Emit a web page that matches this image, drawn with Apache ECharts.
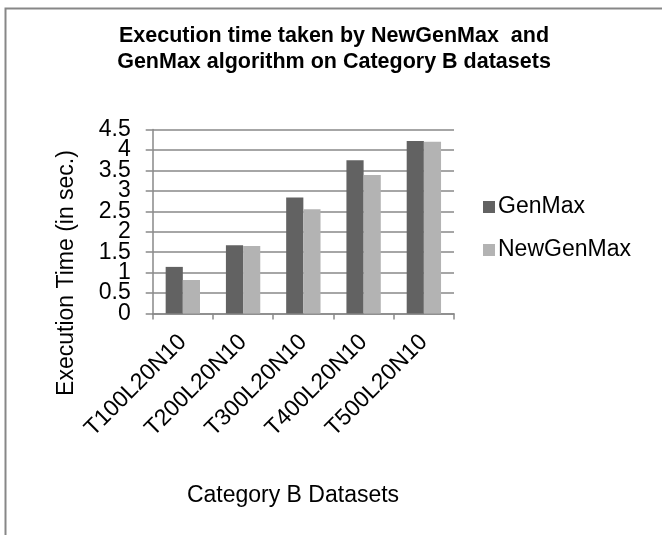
<!DOCTYPE html>
<html>
<head>
<meta charset="utf-8">
<style>
  html, body { margin: 0; padding: 0; background: #fff; }
  #chart { width: 662px; height: 535px; }
</style>
<script src="https://cdn.jsdelivr.net/npm/echarts@6/dist/echarts.min.js"></script>
</head>
<body>
<div id="chart"></div>
<script>
// Dataset categories and execution times (seconds)
const categories = ['T100L20N10', 'T200L20N10', 'T300L20N10', 'T400L20N10', 'T500L20N10'];
const genMax = [1.14, 1.67, 2.84, 3.75, 4.22];
const newGenMax = [0.82, 1.65, 2.55, 3.39, 4.20];
const seriesNames = ['GenMax', 'NewGenMax'];
const titleLines = ['Execution time taken by NewGenMax  and', 'GenMax algorithm on Category B datasets'];
const xAxisTitle = 'Category B Datasets';
const yAxisTitle = 'Execution Time (in sec.)';
const Y_MIN = 0, Y_MAX = 4.5, Y_STEP = 0.5;

const FONT = '"Liberation Sans", Arial, sans-serif';
const GRID_COLOR = '#898989';
const LABEL_SIZE = 23;

// plot area
const PLOT = { left: 152.7, top: 129.5, width: 301.3, height: 184 };
const stepPx = PLOT.height / ((Y_MAX - Y_MIN) / Y_STEP);

// The tick labels sit closer together than their font height, so they are
// split over two label-only axes (whole and half values) to keep every one shown.
const labelAxisStyle = {
  type: 'value',
  interval: 1,
  axisLine: { show: false },
  axisTick: { show: false },
  splitLine: { show: false },
  axisLabel: {
    margin: 22,
    fontFamily: FONT,
    fontSize: LABEL_SIZE,
    color: '#000',
    showMinLabel: true,
    showMaxLabel: true,
    formatter: v => String(v)
  }
};

const chart = echarts.init(document.getElementById('chart'), null, { renderer: 'canvas' });

chart.setOption({
  animation: false,
  backgroundColor: '#ffffff',
  textStyle: { fontFamily: FONT },
  legend: {
    orient: 'vertical',
    left: 478,
    top: 190,
    icon: 'rect',
    itemWidth: 12,
    itemHeight: 12,
    itemGap: 19,
    data: seriesNames,
    textStyle: { fontFamily: FONT, fontSize: LABEL_SIZE, color: '#000', lineHeight: 24, padding: [0, 0, 0, -2] }
  },
  grid: [
    { left: PLOT.left, top: PLOT.top, width: PLOT.width, height: PLOT.height, containLabel: false },
    { left: PLOT.left, top: PLOT.top + stepPx, width: PLOT.width, height: PLOT.height - stepPx, containLabel: false },
    { left: PLOT.left, top: PLOT.top, width: PLOT.width, height: PLOT.height - stepPx, containLabel: false }
  ],
  xAxis: [
    {
      type: 'category',
      gridIndex: 0,
      data: categories,
      boundaryGap: true,
      axisLine: { lineStyle: { color: GRID_COLOR, width: 1.5 } },
      axisTick: { show: true, alignWithLabel: false, length: 6, lineStyle: { color: GRID_COLOR, width: 1.5 } },
      axisLabel: {
        rotate: 45,
        interval: 0,
        margin: 25,
        fontFamily: FONT,
        fontSize: LABEL_SIZE,
        color: '#000'
      }
    },
    { type: 'category', gridIndex: 1, data: categories, show: false },
    { type: 'category', gridIndex: 2, data: categories, show: false }
  ],
  yAxis: [
    {
      type: 'value',
      gridIndex: 0,
      min: Y_MIN,
      max: Y_MAX,
      interval: Y_STEP,
      axisLine: { show: true, lineStyle: { color: GRID_COLOR, width: 1.5 } },
      axisTick: { show: true, length: 7, lineStyle: { color: GRID_COLOR, width: 1.5 } },
      splitLine: { show: true, lineStyle: { color: GRID_COLOR, width: 1.5 } },
      axisLabel: { show: false }
    },
    Object.assign({ gridIndex: 1, min: Y_MIN, max: Y_MAX - Y_STEP }, labelAxisStyle),
    Object.assign({ gridIndex: 2, min: Y_MIN + Y_STEP, max: Y_MAX }, labelAxisStyle)
  ],
  series: [
    {
      name: seriesNames[0],
      type: 'bar',
      data: genMax,
      barGap: '0%',
      barCategoryGap: '43%',
      itemStyle: { color: '#626262' }
    },
    {
      name: seriesNames[1],
      type: 'bar',
      data: newGenMax,
      barGap: '0%',
      barCategoryGap: '43%',
      itemStyle: { color: '#b3b3b3' }
    }
  ],
  graphic: [
    {
      type: 'rect',
      silent: true,
      shape: { x: 5.5, y: 8.5, width: 700, height: 600 },
      style: { fill: 'none', stroke: '#878787', lineWidth: 2 }
    },
    {
      type: 'text',
      x: 334,
      y: 49,
      style: {
        text: titleLines.join('\n'),
        fontFamily: FONT,
        fontSize: 21.5,
        fontWeight: 'bold',
        lineHeight: 26,
        fill: '#000',
        align: 'center',
        verticalAlign: 'middle'
      }
    },
    {
      type: 'text',
      x: 293,
      y: 496,
      style: {
        text: xAxisTitle,
        fontFamily: FONT,
        fontSize: LABEL_SIZE,
        fill: '#000',
        align: 'center',
        verticalAlign: 'middle'
      }
    },
    {
      type: 'text',
      x: 67,
      y: 273,
      rotation: Math.PI / 2,
      style: {
        text: yAxisTitle,
        fontFamily: FONT,
        fontSize: LABEL_SIZE,
        fill: '#000',
        align: 'center',
        verticalAlign: 'middle'
      }
    }
  ]
});
</script>
</body>
</html>
